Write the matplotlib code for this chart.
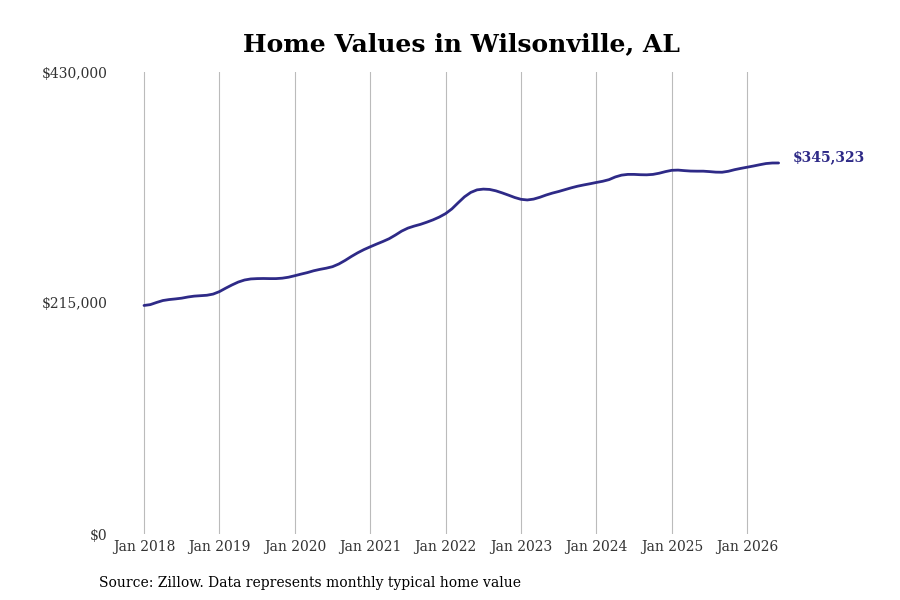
import numpy as np
import matplotlib
matplotlib.use('agg')
import matplotlib.pyplot as plt

plt.rcParams['font.family'] = 'DejaVu Serif'

# monthly typical home value, Jan 2018 .. Jun 2026
values = [
    212700, 213500, 215500, 217300, 218200, 218800, 219500, 220600, 221400, 221800, 222200, 223300,
    225600, 228800, 231800, 234500, 236400, 237400, 237700, 237800, 237700, 237700, 238100, 239000,
    240400, 241900, 243300, 245000, 246300, 247400, 248800, 251300, 254600, 258300, 261700, 264700,
    267300, 269800, 272200, 274800, 278200, 281900, 284700, 286600, 288200, 290200, 292400, 295000,
    298200, 302600, 308300, 313800, 317900, 320300, 321000, 320700, 319400, 317500, 315400, 313200,
    311500, 310900, 311700, 313400, 315500, 317300, 318800, 320500, 322200, 323700, 324900, 326000,
    327200, 328300, 329800, 332300, 334000, 334700, 334700, 334400, 334300, 334700, 335800, 337300,
    338500, 338700, 338200, 337800, 337700, 337700, 337300, 336800, 336700, 337600, 339100, 340300,
    341400, 342500, 343700, 344800, 345300, 345323,
]
tick_labels = ['Jan 2018', 'Jan 2019', 'Jan 2020', 'Jan 2021', 'Jan 2022',
               'Jan 2023', 'Jan 2024', 'Jan 2025', 'Jan 2026']
y_ticks = [0, 215000, 430000]
y_labels = ['$0', '$215,000', '$430,000']
end_label = '$345,323'

line_color = '#2e2a87'

fig = plt.figure(figsize=(9, 6), dpi=100)
ax = fig.add_axes([0.13, 0.11, 0.74, 0.77])

months = np.arange(len(values))
ax.plot(months, values, color=line_color, linewidth=2.0, solid_capstyle='round')

ax.set_xlim(-4.3, 101.7)
ax.set_ylim(0, 430000)
ax.set_xticks(np.arange(len(tick_labels)) * 12)
ax.set_xticklabels(tick_labels)
ax.set_yticks(y_ticks)
ax.set_yticklabels(y_labels)
ax.tick_params(axis='both', length=0, labelsize=10, colors='#333333')
ax.tick_params(axis='x', pad=4)
ax.tick_params(axis='y', pad=7)
for lbl in ax.get_yticklabels():
    lbl.set_verticalalignment('center_baseline')
ax.grid(axis='x', color='#bbbbbb', linewidth=0.8)
for s in ax.spines.values():
    s.set_visible(False)

ax.annotate(end_label, xy=(months[-1], values[-1]), xytext=(10, 4),
            textcoords='offset points', color=line_color, fontsize=10,
            fontweight='bold', va='center', ha='left', annotation_clip=False)

fig.text(0.513, 0.927, 'Home Values in Wilsonville, AL', ha='center', va='center',
         fontsize=18, fontweight='bold')
fig.text(0.11, 0.029, 'Source: Zillow. Data represents monthly typical home value',
         ha='left', va='center', fontsize=10)

fig.savefig('out.png', dpi=100)
